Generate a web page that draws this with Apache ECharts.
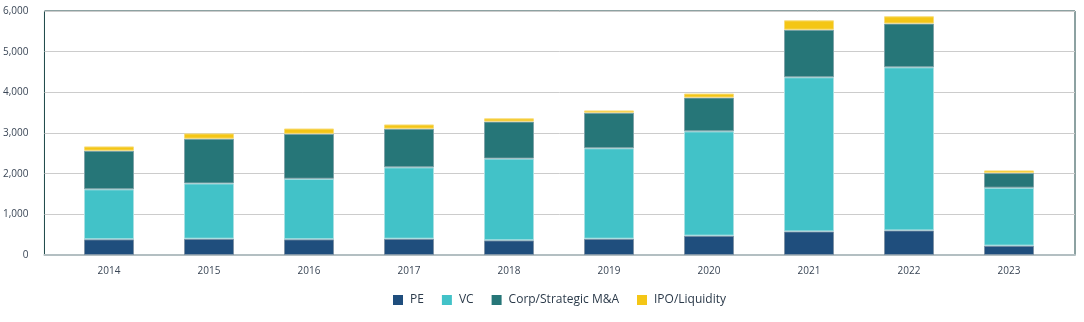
<!DOCTYPE html>
<html>
<head>
<meta charset="utf-8">
<script src="https://cdn.jsdelivr.net/npm/echarts@6/dist/echarts.min.js"></script>
<style>
  html, body { margin: 0; padding: 0; background: #fff; }
  #chart { width: 1084px; height: 322px; }
</style>
</head>
<body>
<div id="chart"></div>
<script>
// Deal counts by exit/financing type, 2014-2023
const years = ['2014', '2015', '2016', '2017', '2018', '2019', '2020', '2021', '2022', '2023'];
const pe    = [385, 400, 385, 400, 360, 400, 475, 580, 605, 230];
const vc    = [1230, 1360, 1490, 1755, 2010, 2225, 2565, 3790, 4010, 1425];
const corp  = [950, 1100, 1105, 950, 910, 875, 830, 1170, 1075, 360];
const ipo   = [105, 130, 130, 105, 80, 55, 100, 230, 180, 65];
const yMax = 6000;
const yStep = 1000;

const seriesDefs = [
  { name: 'PE', values: pe, color: '#1f4e7d', border: '#7f93a6' },
  { name: 'VC', values: vc, color: '#42c2c8', border: '#a8dfe2' },
  { name: 'Corp/Strategic M&A', values: corp, color: '#267678', border: '#7fa3a8' },
  { name: 'IPO/Liquidity', values: ipo, color: '#f4c616', border: '#f7dc7a' }
];

const chart = echarts.init(document.getElementById('chart'), null, { renderer: 'canvas' });

chart.setOption({
  animation: false,
  textStyle: { fontFamily: 'Open Sans' },
  grid: [
    // outer frame: border, gridlines, value labels
    { left: 43, right: 9, top: 11, bottom: 67, show: true, borderColor: '#1a4545', borderWidth: 1 },
    // inner band holding the year categories and bars
    { left: 59, right: 25, top: 11, bottom: 67 }
  ],
  legend: {
    bottom: 11,
    left: 388,
    icon: 'rect',
    itemWidth: 10,
    itemHeight: 10,
    itemGap: 18,
    itemStyle: { borderWidth: 0 },
    textStyle: { fontSize: 12, color: '#2b3a4a', fontFamily: 'Open Sans', padding: [0, 0, 0, 2] },
    data: seriesDefs.map(s => s.name)
  },
  xAxis: [
    {
      gridIndex: 0,
      type: 'value',
      min: 0, max: 1,
      splitLine: { show: false },
      axisTick: { show: false },
      axisLabel: { show: false },
      axisLine: { show: true, lineStyle: { color: '#b3bfc2', width: 2 } }
    },
    {
      gridIndex: 1,
      type: 'category',
      data: years,
      axisLine: { show: false },
      axisTick: { show: false },
      axisLabel: { fontSize: 10, color: '#3a4656', margin: 11 }
    }
  ],
  yAxis: [
    {
      gridIndex: 0,
      type: 'value',
      min: 0, max: yMax, interval: yStep,
      axisLine: { show: false },
      axisTick: { show: false },
      splitLine: { lineStyle: { color: '#cccccc', width: 1 } },
      axisLabel: {
        fontSize: 10,
        color: '#3a4656',
        margin: 16,
        formatter: v => v.toLocaleString('en-US')
      }
    },
    {
      gridIndex: 1,
      type: 'value',
      min: 0, max: yMax, interval: yStep,
      show: false,
      splitLine: { show: false }
    }
  ],
  series: seriesDefs.map(s => ({
    name: s.name,
    type: 'bar',
    xAxisIndex: 1,
    yAxisIndex: 1,
    stack: 'total',
    barWidth: 50,
    itemStyle: { color: s.color, borderColor: s.border, borderWidth: 1 },
    data: s.values
  }))
});
</script>
</body>
</html>
